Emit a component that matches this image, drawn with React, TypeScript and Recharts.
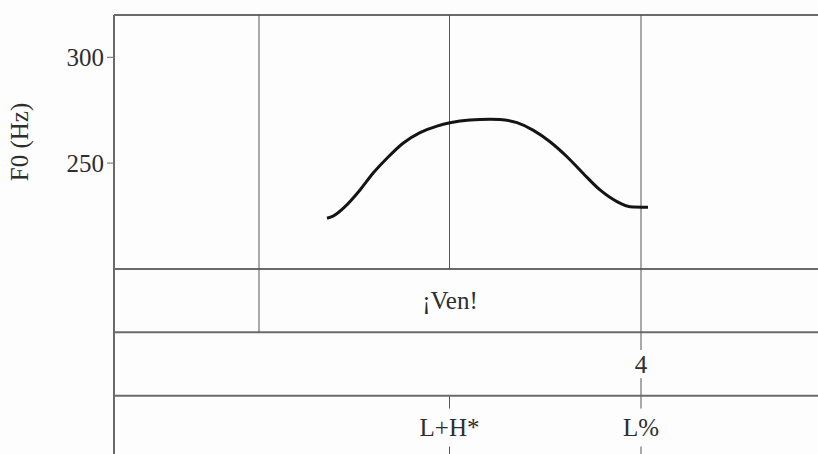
import React from 'react';
import { LineChart, Line, XAxis, YAxis, ReferenceLine, ReferenceArea } from 'recharts';

// pitch track: time (s) and F0 (Hz)
const times = [0.213, 0.219, 0.231, 0.246, 0.259, 0.273, 0.289, 0.306, 0.323, 0.336, 0.356,
  0.376, 0.386, 0.403, 0.419, 0.436, 0.453, 0.469, 0.486, 0.503, 0.516, 0.534];
const f0 = [223.9, 224.9, 229.4, 237.3, 245.2, 252.3, 259.4, 264.4, 267.5, 269.1, 270.4,
  270.7, 270.6, 269.1, 265.6, 260.1, 253.0, 245.2, 237.3, 231.8, 229.4, 229.1];

const f0Ticks = [250, 300];
const f0Marks = [0.145, 0.3355, 0.527];

// word tier
const words = ['¡Ven!'];
const wordStart = [0.145];
const wordEnd = [0.527];

// break index tier
const breakTimes = [0.527];
const breakLabels = ['4'];

// tone tier
const toneTimes = [0.3355, 0.527];
const toneLabels = ['L+H*', 'L%'];

const track = times.map((t, i) => ({ t, f0: f0[i] }));

// the tiers sit under the F0 pane on the same vertical scale
const TOP = 320;
const F0_LOW = 200;
const WORD_LOW = 170;
const BREAK_LOW = 140;
const TONE_LOW = 110;
const BOTTOM = 112.5;

const W = 818;
const BG = '#fdfdfd';
const FRAME = '#6a6a6a';
const MARK = '#555';
const FONT = '"Liberation Serif", "Times New Roman", serif';
const txt = { fontFamily: FONT, fontSize: 25, fill: '#2e2e2e' };

const seg = (t: number, a: number, b: number, key: string) => (
  <ReferenceLine key={key} segment={[{ x: t, y: a }, { x: t, y: b }]} stroke={MARK} ifOverflow="visible" />
);

// point mark: a line through the whole tier, broken where its label sits
function PointLabel(props: any) {
  const { viewBox, value, gap } = props;
  if (!viewBox) return null;
  const cx = viewBox.x + viewBox.width / 2;
  const top = viewBox.y;
  const bottom = viewBox.y + viewBox.height;
  const cy = (top + bottom) / 2;
  return (
    <g>
      <line x1={cx} x2={cx} y1={top} y2={cy - gap / 2} stroke={MARK} />
      <line x1={cx} x2={cx} y1={cy + gap / 2} y2={bottom} stroke={MARK} />
      <text x={cx} y={cy} dy="0.35em" textAnchor="middle" {...txt}>{value}</text>
    </g>
  );
}

function pointTier(at: number[], labels: string[], lo: number, hi: number, gap: number, name: string) {
  return at.map((t, i) => (
    <ReferenceArea key={`${name}${i}`} x1={t - 0.01} x2={t + 0.01} y1={lo} y2={hi}
      fill="none" fillOpacity={0} stroke="none" ifOverflow="visible"
      label={<PointLabel value={labels[i]} gap={gap} />} />
  ));
}

export default function App() {
  return (
    <div style={{ position: 'absolute', left: 0, top: 0, width: W, height: 454, overflow: 'hidden', background: BG }}>
      <LineChart width={W} height={454} data={track} margin={{ top: 15, right: 0, bottom: 0, left: 0 }}>
        <XAxis dataKey="t" type="number" domain={[0, 0.704]} hide />
        <YAxis
          type="number"
          domain={[BOTTOM, TOP]}
          ticks={f0Ticks}
          width={114}
          tickSize={7}
          tickMargin={3}
          axisLine={{ stroke: FRAME, strokeWidth: 2 }}
          tickLine={{ stroke: FRAME }}
          tick={txt}
        />
        <ReferenceArea x1={0} x2={0.704} y1={F0_LOW} y2={TOP} fill="none" fillOpacity={0} stroke="none"
          label={{ value: 'F0 (Hz)', position: 'left', offset: 95, angle: -90, ...txt, style: { textAnchor: 'middle' } }} />

        {[TOP, F0_LOW, WORD_LOW, BREAK_LOW].map((y) => (
          <ReferenceLine key={`h${y}`} y={y} stroke={FRAME} strokeWidth={2} />
        ))}

        {f0Marks.map((t, i) => seg(t, TOP, F0_LOW, `f${i}`))}

        {words.map((w, i) => [
          seg(wordStart[i], F0_LOW, WORD_LOW, `ws${i}`),
          seg(wordEnd[i], F0_LOW, WORD_LOW, `we${i}`),
          <ReferenceArea key={`wt${i}`} x1={wordStart[i]} x2={wordEnd[i]} y1={WORD_LOW} y2={F0_LOW}
            fill="none" fillOpacity={0} stroke="none" label={{ value: w, position: 'center', ...txt }} />,
        ])}

        {pointTier(breakTimes, breakLabels, BREAK_LOW, WORD_LOW, 28, 'b')}
        {pointTier(toneTimes, toneLabels, TONE_LOW, BREAK_LOW, 38, 't')}

        <Line dataKey="f0" type="monotone" stroke="#141414" strokeWidth={3} dot={false} isAnimationActive={false} />
      </LineChart>
    </div>
  );
}
